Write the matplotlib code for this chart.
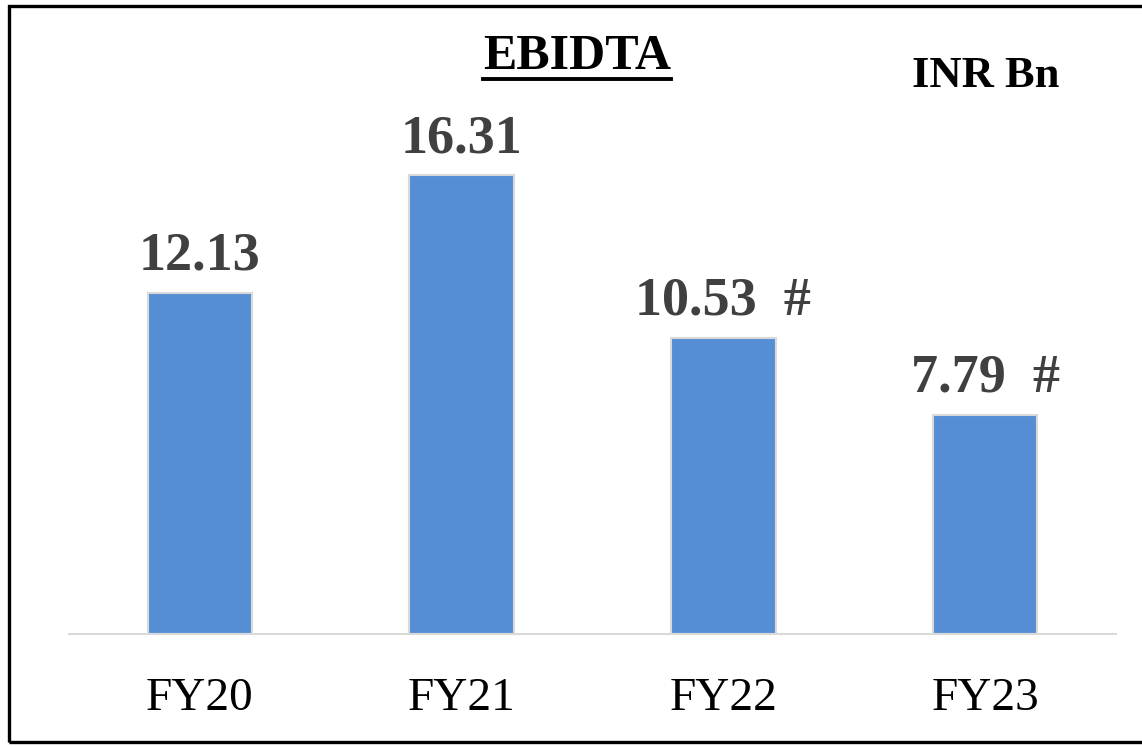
import matplotlib
matplotlib.use('Agg')
import matplotlib.pyplot as plt
from matplotlib.patches import Rectangle
from matplotlib.lines import Line2D

years = ['FY20', 'FY21', 'FY22', 'FY23']
ebitda = [12.13, 16.31, 10.53, 7.79]
value_labels = ['12.13', '16.31', '10.53  #', '7.79  #']

W, H = 1142, 746
plt.rcParams['font.family'] = ['Liberation Serif', 'DejaVu Serif']

fig = plt.figure(figsize=(W / 100, H / 100), dpi=100)

# axes placed in pixel terms: baseline at y=634, x from 69 to 1116
ymax = 18.0
px_per_unit = (634 - 175) / 16.31
ax_h = ymax * px_per_unit
ax = fig.add_axes([69 / W, (H - 634) / H, (1116 - 69) / W, ax_h / H])

x = range(len(years))
ax.bar(x, ebitda, width=0.4, color='#558ED5', edgecolor='#D9D9D9', linewidth=1.5)
ax.set_xlim(-0.5, 3.5)
ax.set_ylim(0, ymax)

for i, (v, lab) in enumerate(zip(ebitda, value_labels)):
    ax.annotate(lab, (i, v), xytext=(0, 16.5), textcoords='offset points',
                ha='center', va='baseline', fontsize=39, fontweight='bold',
                color='#404040')

ax.set_xticks(list(x))
ax.set_xticklabels(years, fontsize=34, color='black')
ax.tick_params(axis='x', length=0, pad=31)
ax.set_yticks([])
for s in ['top', 'right', 'left']:
    ax.spines[s].set_visible(False)
ax.spines['bottom'].set_color('#D9D9D9')
ax.spines['bottom'].set_linewidth(1.5)

# title with underline
title = fig.text(577 / W, 1 - 69 / H, 'EBIDTA', ha='center', va='baseline',
                 fontsize=36, fontweight='bold', color='black')
fig.text(986 / W, 1 - 87 / H, 'INR Bn', ha='center', va='baseline',
         fontsize=32, fontweight='bold', color='black')

fig.canvas.draw()
bb = title.get_window_extent()
fig.add_artist(Line2D([bb.x0 / W, bb.x1 / W], [(H - 78.5) / H, (H - 78.5) / H],
                      transform=fig.transFigure, color='black', linewidth=2.8))

# outer frame (right edge runs off the image)
fig.add_artist(Rectangle((9 / W, 4 / H), 1.05, 1 - 10 / H,
                         transform=fig.transFigure, fill=False,
                         edgecolor='black', linewidth=2.4, clip_on=False))

fig.savefig('out.png', dpi=100)
